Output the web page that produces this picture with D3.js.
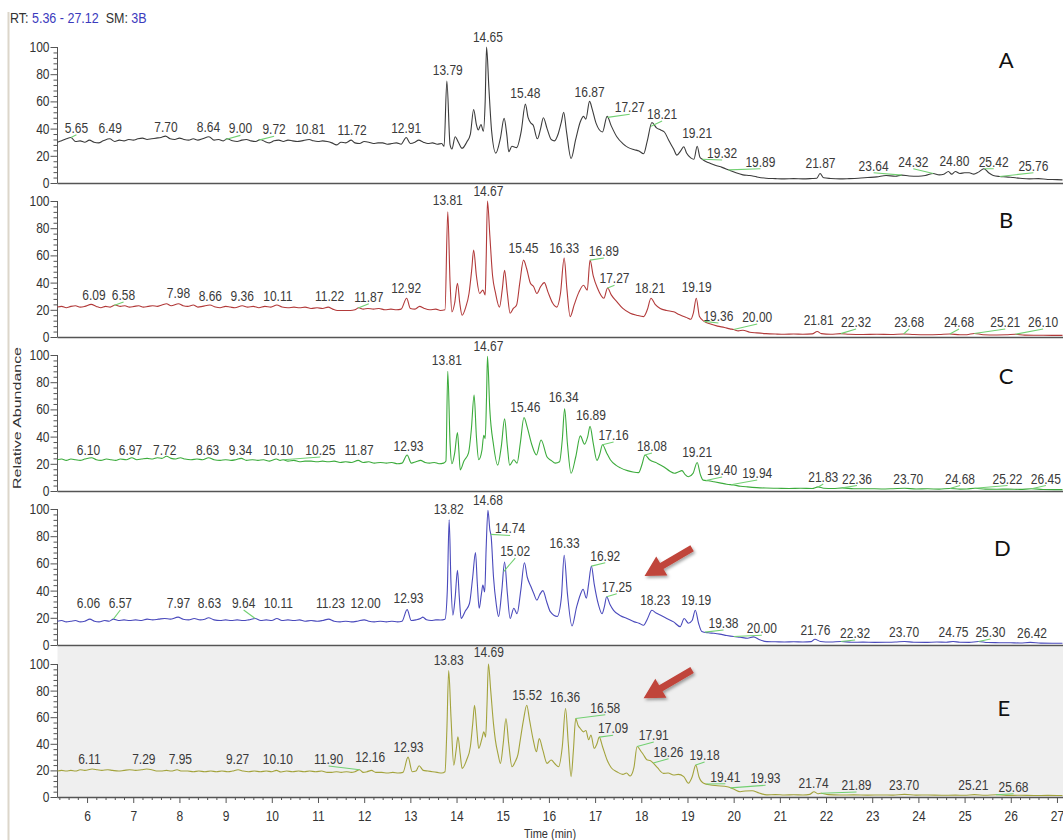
<!DOCTYPE html>
<html>
<head>
<meta charset="utf-8">
<script src="https://cdn.jsdelivr.net/npm/d3@7"></script>
<style>
  body { margin: 0; background: #fff; }
  svg { display: block; font-family: "Liberation Sans", Arial, sans-serif; }
</style>
</head>
<body>
<svg id="chart" width="1063" height="840"></svg>
<script>
// ---- Data: retention time (min) vs relative abundance (%) ----
const rtRange = [5.36, 27.12];
const yTicks = [0, 20, 40, 60, 80, 100];
const panelNames = ["A", "B", "C", "D", "E"];

const traceA = [
[5.36,30],[5.45,31],[5.55,32.5],[5.65,33.5],[5.75,30.5],[5.85,31],[5.95,30],[6.05,31.5],[6.15,30],[6.25,29.5],[6.35,31],[6.49,32.5],[6.6,30.5],[6.7,31.5],[6.8,31],[6.9,32],[7.0,31.5],[7.1,32.5],[7.2,33],[7.3,32],[7.4,32.5],[7.5,33],[7.6,33.5],[7.7,34.5],[7.8,32.5],[7.9,32],[8.0,33],[8.1,32],[8.2,31.5],[8.3,32.5],[8.4,31.5],[8.5,32.5],[8.64,34],[8.75,31.5],[8.85,32],[8.95,31],[9.03,32.5],[9.15,31],[9.25,30.5],[9.35,31.5],[9.45,32],[9.55,31],[9.65,30.5],[9.75,32],[9.85,30.5],[9.95,29.5],[10.05,31],[10.15,31.5],[10.25,30.5],[10.35,31.5],[10.45,31],[10.55,30.5],[10.65,31],[10.81,32],[10.9,31],[11.0,30.5],[11.1,31],[11.2,30.5],[11.3,29.5],[11.4,28],[11.5,30],[11.6,29.5],[11.72,31.5],[11.8,29.5],[11.9,29],[12.0,30.5],[12.1,30],[12.2,29],[12.3,29.5],[12.4,29.5],[12.5,28.5],[12.6,29],[12.7,29.5],[12.8,28.5],[12.91,33.5],[13.0,29],[13.1,30],[13.18,31.5],[13.28,30],[13.38,29],[13.48,29.5],[13.58,28.5],[13.68,29],[13.73,27],[13.79,75],[13.86,28],[13.9,25],[13.97,34],[14.04,30],[14.12,25.5],[14.22,30],[14.3,36],[14.37,54],[14.43,43],[14.47,39],[14.53,43],[14.58,38],[14.62,60],[14.65,100],[14.7,70],[14.76,38],[14.85,22],[14.95,33],[15.03,47.5],[15.09,35],[15.13,23],[15.2,27],[15.3,26],[15.4,38],[15.49,58],[15.55,48],[15.61,44],[15.66,42.5],[15.75,32.5],[15.82,40],[15.88,48],[15.96,40],[16.05,32],[16.12,31],[16.2,36],[16.27,45],[16.32,52],[16.38,38],[16.48,18],[16.58,32],[16.68,45],[16.75,49],[16.8,47],[16.88,60],[16.94,54],[17.02,44],[17.16,37.5],[17.26,49],[17.35,42],[17.47,34],[17.6,29],[17.72,26],[17.85,24.5],[17.95,23.5],[18.05,21.5],[18.13,31],[18.23,44.5],[18.33,40.5],[18.42,39],[18.5,37.5],[18.6,31],[18.7,25],[18.77,20.5],[18.86,24],[18.92,26.7],[18.98,22],[19.07,18.5],[19.14,17.5],[19.21,27],[19.27,19],[19.32,17.5],[19.45,15],[19.6,13],[19.75,11.5],[19.9,9.5],[20.05,7.5],[20.2,6],[20.35,5.5],[20.5,4.5],[20.7,3.5],[20.9,3.2],[21.1,3],[21.3,3.2],[21.5,3],[21.7,3.3],[21.8,3.5],[21.87,7],[21.95,3.8],[22.1,3.3],[22.3,3],[22.5,3.2],[22.7,3.5],[22.9,4],[23.1,4.5],[23.3,5.5],[23.5,5],[23.64,5.8],[23.8,5.2],[24.0,5],[24.15,5.5],[24.32,7],[24.45,6],[24.55,6.5],[24.65,8.5],[24.72,6.5],[24.8,8.5],[24.9,7],[25.0,7.5],[25.1,7.5],[25.2,6.5],[25.3,8],[25.42,10.5],[25.52,7.5],[25.62,5.5],[25.76,4.8],[25.9,4.5],[26.05,4],[26.2,3.5],[26.4,3],[26.6,3.2],[26.8,2.6],[27.0,2.5],[27.12,2.3]
];

const traceB = [
[5.36,22],[5.45,22.5],[5.55,21.5],[5.65,22.5],[5.75,23],[5.85,22],[5.95,22.5],[6.09,24],[6.2,22.5],[6.3,21.5],[6.4,22.5],[6.5,22],[6.61,23.5],[6.72,22.5],[6.82,23],[6.92,22],[7.02,22.5],[7.12,23],[7.22,22],[7.32,22.5],[7.42,23],[7.52,22.5],[7.62,23.5],[7.72,24.5],[7.82,23],[7.98,24.5],[8.08,23],[8.18,22.5],[8.3,23.5],[8.4,22],[8.5,22.5],[8.66,23.5],[8.78,22],[8.88,21.5],[9.0,22.5],[9.1,22],[9.2,21.5],[9.36,23],[9.48,22],[9.6,22.5],[9.72,21.5],[9.85,22.5],[9.98,22],[10.11,23.5],[10.22,22],[10.35,21.5],[10.48,22],[10.6,21.5],[10.72,22],[10.85,21],[10.98,21.5],[11.1,21],[11.22,22],[11.32,20.5],[11.42,19.5],[11.55,19.5],[11.7,19.5],[11.8,20],[11.88,21.5],[11.98,20.5],[12.08,21],[12.2,20.5],[12.32,21],[12.45,20],[12.58,20.5],[12.7,20],[12.8,20.5],[12.92,28.5],[13.0,21],[13.1,20.5],[13.2,22.5],[13.3,21],[13.42,20],[13.55,20.5],[13.65,19.5],[13.75,20],[13.81,92],[13.86,40],[13.9,18.5],[13.96,25],[14.02,39.5],[14.07,25],[14.12,16],[14.2,22],[14.27,32],[14.33,50],[14.37,64],[14.43,45],[14.5,32],[14.57,34.5],[14.62,31],[14.64,55],[14.67,100],[14.72,75],[14.78,45],[14.84,33],[14.93,22],[14.99,35],[15.04,49],[15.1,32],[15.16,17.5],[15.23,21],[15.3,23.5],[15.37,40],[15.45,56.5],[15.52,50],[15.6,39.5],[15.67,37],[15.74,32],[15.82,37],[15.9,40],[15.98,33],[16.08,25],[16.17,22],[16.25,32],[16.33,58],[16.39,35],[16.46,15],[16.55,24],[16.65,33],[16.75,38],[16.83,34.5],[16.89,56.5],[16.96,45],[17.05,36],[17.19,28.5],[17.27,36],[17.35,31],[17.47,26],[17.6,21],[17.76,17.5],[17.9,16],[18.05,15],[18.13,20],[18.21,28.5],[18.3,24],[18.41,21],[18.55,19.5],[18.7,18.5],[18.82,16.5],[18.92,15],[19.0,14],[19.07,13],[19.13,18],[19.19,28.5],[19.26,15],[19.36,11.5],[19.5,9.5],[19.65,8],[19.8,7],[19.92,6],[20.0,5.5],[20.1,4.5],[20.2,5],[20.35,3.5],[20.5,3],[20.7,2.5],[20.9,2.2],[21.1,2],[21.3,2.2],[21.5,2],[21.7,2.3],[21.81,4],[21.9,2.5],[22.1,2],[22.32,2.5],[22.5,2],[22.8,1.8],[23.1,2],[23.4,1.8],[23.68,2.2],[23.9,1.8],[24.2,1.6],[24.45,1.8],[24.68,2.2],[24.9,1.6],[25.05,1.7],[25.21,2.6],[25.4,1.7],[25.7,1.5],[25.9,1.6],[26.1,2],[26.3,1.4],[26.6,1.3],[26.9,1.2],[27.12,1.2]
];

const traceC = [
[5.36,23],[5.45,23.5],[5.55,22.5],[5.65,23.5],[5.75,23],[5.85,22.5],[5.95,23.5],[6.1,24.5],[6.2,23],[6.3,22.5],[6.42,23.5],[6.52,23],[6.62,22.5],[6.72,23.5],[6.85,23],[6.97,24.5],[7.08,23],[7.18,23.5],[7.3,24],[7.42,23.5],[7.52,24.5],[7.62,24],[7.72,25.5],[7.82,24],[7.92,23.5],[8.02,24.5],[8.12,23.5],[8.25,23],[8.38,23.5],[8.5,23],[8.63,24.5],[8.75,23],[8.88,22.5],[9.0,23],[9.12,22.5],[9.22,23],[9.34,24],[9.45,22.5],[9.58,23],[9.7,22.5],[9.82,23],[9.95,22],[10.1,23.5],[10.18,22.5],[10.25,23],[10.35,22],[10.48,22.5],[10.6,21.5],[10.72,22],[10.85,22],[10.98,21.5],[11.1,22],[11.22,21.5],[11.35,22],[11.48,21],[11.6,21.5],[11.72,21],[11.87,22.5],[11.98,21],[12.1,21.5],[12.22,20.5],[12.35,21],[12.48,20.5],[12.6,21],[12.72,20],[12.82,20.5],[12.93,26.5],[13.02,20.5],[13.12,21.5],[13.22,22.5],[13.32,21],[13.42,20.5],[13.52,21],[13.62,20],[13.72,20.5],[13.77,22],[13.81,88],[13.86,35],[13.9,20],[13.96,28],[14.02,43],[14.05,30],[14.08,15.5],[14.16,22],[14.26,28],[14.32,45],[14.38,70.5],[14.43,40],[14.48,23],[14.55,30],[14.59,41],[14.62,38.5],[14.65,70],[14.67,99],[14.72,60],[14.8,34],[14.89,19],[14.97,33],[15.04,53],[15.1,33],[15.15,19],[15.24,23],[15.31,20.5],[15.38,35],[15.46,54],[15.53,47],[15.63,34],[15.73,26.5],[15.83,37.5],[15.96,25],[16.05,22.5],[16.14,20.5],[16.23,21.5],[16.29,38],[16.34,60.5],[16.4,35],[16.48,13],[16.58,25],[16.68,40.5],[16.77,34.5],[16.84,40],[16.89,47.5],[16.96,35],[17.04,22.5],[17.1,27],[17.16,34],[17.25,28],[17.33,23],[17.45,19],[17.55,17],[17.7,15],[17.82,14],[17.94,13.5],[18.02,20],[18.08,26.5],[18.18,23],[18.34,20.5],[18.5,17.5],[18.62,14.5],[18.72,13],[18.8,14],[18.88,15],[18.95,12],[19.02,10.5],[19.12,13],[19.21,21],[19.28,12],[19.34,8],[19.45,7.5],[19.57,6.8],[19.7,6],[19.85,5],[20.0,4.4],[20.15,3.5],[20.3,3],[20.5,2.5],[20.7,2.2],[20.95,2],[21.2,1.8],[21.45,2],[21.7,1.8],[21.83,3],[21.95,2],[22.15,1.8],[22.36,2.3],[22.6,1.6],[22.9,1.7],[23.2,1.5],[23.45,1.7],[23.7,2],[23.95,1.5],[24.2,1.6],[24.45,1.4],[24.68,1.8],[24.9,1.4],[25.05,1.5],[25.22,2],[25.45,1.4],[25.7,1.3],[25.95,1.4],[26.2,1.2],[26.45,1.6],[26.7,1.1],[26.95,1],[27.12,1]
];

const traceD = [
[5.36,17.5],[5.45,18],[5.55,17],[5.65,17.5],[5.75,18],[5.85,17],[5.95,17.5],[6.06,19],[6.16,17.5],[6.26,17],[6.38,18],[6.48,17.5],[6.57,19],[6.68,18],[6.8,18.5],[6.92,18],[7.05,18.5],[7.18,18],[7.3,19],[7.42,18.5],[7.55,19],[7.68,19.5],[7.8,19],[7.97,20.5],[8.08,19],[8.2,18.5],[8.32,19.5],[8.45,18.5],[8.55,19],[8.63,20],[8.75,18.5],[8.88,18],[9.0,18.5],[9.12,18],[9.25,18.5],[9.38,18],[9.5,18.5],[9.64,19.5],[9.76,18],[9.88,18.5],[10.0,18],[10.11,19.5],[10.22,18],[10.35,18.5],[10.48,18],[10.6,18.5],[10.72,17.5],[10.85,18],[10.98,17.5],[11.1,18],[11.23,19],[11.35,17.5],[11.48,17],[11.6,17.5],[11.72,17],[11.85,17.5],[12.0,18.5],[12.1,17.5],[12.22,17],[12.35,17.5],[12.48,17],[12.6,17.5],[12.72,17],[12.82,17.5],[12.93,26],[13.02,18],[13.12,18.5],[13.22,19.5],[13.27,20.5],[13.35,18.5],[13.45,18],[13.55,18.5],[13.65,18.4],[13.75,19],[13.8,40],[13.84,92],[13.88,45],[13.92,22],[13.97,35],[14.02,55],[14.06,35],[14.1,19.5],[14.19,25],[14.28,30.5],[14.35,50],[14.41,68],[14.45,45],[14.49,27],[14.54,38],[14.57,44],[14.61,39],[14.64,70],[14.68,99],[14.72,85],[14.75,79.5],[14.8,50],[14.86,30],[14.91,21],[14.98,40],[15.04,61],[15.1,38],[15.16,19.5],[15.24,27],[15.31,23],[15.39,40],[15.47,60.5],[15.53,50],[15.61,43],[15.67,38],[15.74,33],[15.8,37],[15.87,40],[15.95,32],[16.03,24.5],[16.18,21],[16.27,35],[16.33,66],[16.4,38],[16.5,14],[16.6,28],[16.68,37],[16.74,41],[16.81,34.5],[16.86,45],[16.92,58],[16.98,45],[17.07,30],[17.15,23],[17.2,28],[17.25,35.5],[17.32,30],[17.4,25.5],[17.55,21.5],[17.69,19.5],[17.85,17],[17.95,16],[18.05,14.5],[18.13,19],[18.23,25.5],[18.32,23.5],[18.41,22],[18.55,19.5],[18.7,17],[18.84,13.5],[18.93,19.5],[19.02,16],[19.1,18],[19.17,25.5],[19.24,16],[19.31,10],[19.45,9],[19.57,8.6],[19.7,8],[19.85,7],[20.0,6.2],[20.14,5.7],[20.3,5],[20.43,6],[20.55,4],[20.72,2.5],[20.9,2.4],[21.1,2.2],[21.3,2.4],[21.5,2.2],[21.68,2.5],[21.76,4.2],[21.88,2.6],[22.1,2.2],[22.32,2.6],[22.55,2],[22.8,2.1],[23.05,1.9],[23.3,2],[23.5,2.2],[23.7,2.6],[23.9,2],[24.15,1.9],[24.4,2.2],[24.6,2],[24.75,2.6],[24.9,2],[25.1,1.9],[25.3,2.6],[25.5,1.8],[25.75,1.7],[26.0,1.6],[26.2,1.5],[26.42,1.9],[26.65,1.4],[26.9,1.3],[27.12,1.3]
];

const traceE = [
[5.36,19.5],[5.45,20],[5.55,19.5],[5.65,20],[5.75,19.5],[5.85,20.5],[5.95,20],[6.11,21],[6.22,20.5],[6.32,20],[6.45,20.5],[6.55,20],[6.68,19.5],[6.8,20],[6.92,20.5],[7.05,20],[7.18,20.5],[7.29,21],[7.4,20.5],[7.5,19.5],[7.6,19.5],[7.72,20],[7.82,19.5],[7.95,20.5],[8.05,19.5],[8.18,19.5],[8.3,19],[8.42,19.5],[8.55,19],[8.68,19.5],[8.8,19],[8.92,19.5],[9.05,19],[9.15,19.5],[9.27,20.5],[9.38,19.5],[9.5,19],[9.62,19.5],[9.75,19],[9.88,19.5],[10.0,19],[10.1,20],[10.2,18.8],[10.32,19.5],[10.45,19],[10.58,19.5],[10.7,19],[10.82,19.5],[10.95,19],[11.08,19.5],[11.2,18.5],[11.3,18.5],[11.4,19],[11.5,18.5],[11.62,19],[11.72,18.5],[11.8,19],[11.9,20.5],[11.98,18.5],[12.06,19],[12.16,20],[12.25,18.5],[12.38,18.5],[12.5,18],[12.62,18.5],[12.74,18],[12.84,18.5],[12.95,30],[13.04,19],[13.12,19.5],[13.19,23.5],[13.28,20],[13.38,19.5],[13.48,19],[13.58,18.5],[13.68,18],[13.75,19],[13.79,50],[13.83,95],[13.88,60],[13.94,24],[13.99,35],[14.03,45.3],[14.08,32],[14.12,21.5],[14.22,28],[14.3,38],[14.35,55],[14.39,69],[14.44,50],[14.48,36.5],[14.55,44],[14.59,49],[14.63,45],[14.66,70],[14.69,100],[14.74,80],[14.8,55],[14.84,43],[14.9,32],[14.95,25.3],[15.01,40],[15.07,59],[15.13,40],[15.2,22.8],[15.27,26.6],[15.33,32],[15.38,43],[15.45,58],[15.52,69],[15.58,58],[15.66,43],[15.73,34],[15.79,44],[15.87,35],[15.96,25.3],[16.05,27.8],[16.13,25],[16.21,22.8],[16.29,38],[16.36,66.5],[16.42,40],[16.48,15.3],[16.53,35],[16.58,59],[16.63,54],[16.68,51.5],[16.75,49],[16.8,50],[16.86,43],[16.91,46.6],[16.98,36.6],[17.04,40],[17.09,45],[17.16,38],[17.26,27.8],[17.35,22],[17.47,19],[17.6,17],[17.68,18],[17.76,15.8],[17.84,22],[17.91,38],[18.0,34],[18.05,31.6],[18.12,28],[18.2,27.3],[18.26,25.5],[18.35,22],[18.48,17.8],[18.58,18],[18.7,16.5],[18.8,17],[18.92,15.3],[19.02,10.3],[19.1,15],[19.18,24],[19.25,15],[19.35,10.3],[19.5,9],[19.65,8.5],[19.86,7.7],[20.0,6],[20.14,4],[20.25,4.5],[20.4,4.7],[20.55,3],[20.72,1.6],[20.9,1.8],[21.1,1.5],[21.3,1.7],[21.5,1.5],[21.65,2],[21.74,4],[21.82,2.5],[21.89,2.8],[22.05,1.8],[22.3,1.5],[22.6,1.6],[22.9,1.4],[23.2,1.5],[23.45,1.4],[23.7,2],[23.95,1.4],[24.2,1.5],[24.5,1.3],[24.8,1.4],[25.0,1.3],[25.21,1.8],[25.45,1.3],[25.68,1.7],[25.9,1.2],[26.2,1.3],[26.5,1.1],[26.8,1.2],[27.12,1.1]
];

// Peak labels: [label text (apex RT), label RT, label abundance]
const labelsA = [
["5.65",5.77,37],["6.49",6.50,37],["7.70",7.71,37.7],["8.64",8.63,37.7],["9.00",9.32,36.5],["9.72",10.05,35.8],["10.81",10.83,35.8],["11.72",11.74,35.3],["12.91",12.91,36.5],["13.79",13.81,79.4],["14.65",14.68,103.5],["15.48",15.49,62.3],["16.87",16.88,63.5],["17.27",17.75,52],["18.21",18.45,47],["19.21",19.21,32.8],["19.32",19.75,18.4],["19.89",20.58,12],["21.87",21.88,10.8],["23.64",23.03,9],["24.32",23.89,12],["24.80",24.78,12.7],["25.42",25.63,12],["25.76",26.49,9]
];
const labelsB = [
["6.09",6.15,27.2],["6.58",6.79,27.2],["7.98",7.98,28.5],["8.66",8.67,26.7],["9.36",9.36,26.7],["10.11",10.13,26.7],["11.22",11.25,26.7],["11.87",12.10,26],["12.92",12.91,32],["13.81",13.81,97],["14.67",14.69,104],["15.45",15.45,61.5],["16.33",16.33,61.5],["16.89",17.19,59.6],["17.27",17.42,39.5],["18.21",18.19,32],["19.19",19.2,33],["19.36",19.67,11.8],["20.00",20.51,11],["21.81",21.84,8.8],["22.32",22.65,7.4],["23.68",23.8,7.4],["24.68",24.88,7.4],["25.21",25.88,7.4],["26.10",26.7,7.4]
];
const labelsC = [
["6.10",6.03,26.5],["6.97",6.94,26.5],["7.72",7.68,26.5],["8.63",8.61,26.5],["9.34",9.32,26.5],["10.10",10.14,26.5],["10.25",11.05,26.5],["11.87",11.89,26.5],["12.93",12.96,29.4],["13.81",13.79,92.6],["14.67",14.69,103],["15.46",15.49,58.3],["16.34",16.32,65.2],["16.89",16.91,52.2],["17.16",17.40,37.5],["18.08",18.23,29.4],["19.21",19.21,25.2],["19.40",19.75,11.8],["19.94",20.51,9.6],["21.83",21.94,6.6],["22.36",22.67,5.5],["23.70",23.78,5.5],["24.68",24.9,5.5],["25.22",25.93,5.5],["26.45",26.76,5.5]
];
const labelsD = [
["6.06",6.03,27.2],["6.57",6.72,27.2],["7.97",7.98,27.2],["8.63",8.65,27.2],["9.64",9.39,27.2],["10.11",10.14,27.2],["11.23",11.27,27.2],["12.00",12.03,27.2],["12.93",12.96,30.7],["13.82",13.83,96.3],["14.68",14.68,103],["14.74",15.16,82],["15.02",15.27,65.4],["16.33",16.34,71.1],["16.92",17.22,62],["17.25",17.47,39.2],["18.23",18.30,29.4],["19.19",19.19,29.4],["19.38",19.78,12.5],["20.00",20.61,8.6],["21.76",21.77,7.4],["22.32",22.63,5.1],["23.70",23.69,5.9],["24.75",24.76,6.1],["25.30",25.56,5.9],["26.42",26.46,5.5]
];
const labelsE = [
["6.11",6.05,24.8],["7.29",7.23,24.8],["7.95",8.02,24.8],["9.27",9.26,24.8],["10.10",10.13,24.8],["11.90",11.23,24.8],["12.16",12.13,26.5],["12.93",12.96,34],["13.83",13.83,99.2],["14.69",14.70,105],["15.52",15.53,73.3],["16.36",16.35,71.5],["16.58",17.22,63.4],["17.09",17.39,47.9],["17.91",18.27,42.9],["18.26",18.59,30.3],["19.18",19.37,27.8],["19.41",19.82,11.5],["19.93",20.69,10.3],["21.74",21.73,6.4],["21.89",22.66,5.3],["23.70",23.69,5.3],["25.21",25.19,5.3],["25.68",26.06,4]
];

const traces = [traceA, traceB, traceC, traceD, traceE];
const labelSets = [labelsA, labelsB, labelsC, labelsD, labelsE];

// ---- Layout ----
const W = 1063, H = 840;
const panels = [
  { top: 47,  bottom: 183, color: "#3c3c3c", nameAt: [25.9, 84.8] },
  { top: 201, bottom: 337, color: "#b23a3a", nameAt: [25.9, 80] },
  { top: 355, bottom: 491, color: "#3cab3c", nameAt: [25.9, 78.7] },
  { top: 509, bottom: 645, color: "#4a4abc", nameAt: [25.82, 65.4] },
  { top: 664, bottom: 797, color: "#a3a33c", nameAt: [25.85, 61] }
];
const axisX0 = 57.5;
const x = d3.scaleLinear().domain(rtRange).range([axisX0, 1062.5]);
const textColor = "#333";
const stretch = "scale(1,1.15)";   // glyphs in this plot are slightly tall

const svg = d3.select("#chart");
svg.append("rect").attr("width", W).attr("height", H).attr("fill", "#fff");

// shaded background of the last trace
svg.append("rect")
  .attr("x", axisX0).attr("y", 646.5)
  .attr("width", W - axisX0).attr("height", panels[4].bottom - 646.5)
  .attr("fill", "#efefef");

// frame line at the left
svg.append("line")
  .attr("x1", 8.5).attr("x2", 8.5).attr("y1", 12).attr("y2", H)
  .attr("stroke", "#dcd6ca").attr("stroke-width", 2);

// header
const hdr = svg.append("text").attr("transform", `translate(10,23) ${stretch}`)
  .attr("font-size", 12.5).attr("fill", textColor).attr("xml:space", "preserve");
hdr.append("tspan").text("RT: ");
hdr.append("tspan").attr("fill", "#3b3bbd").text("5.36 - 27.12");
hdr.append("tspan").text("  SM: ");
hdr.append("tspan").attr("fill", "#3b3bbd").text("3B");

function valueAt(trace, rt) {
  const i = d3.bisector(d => d[0]).left(trace, rt);
  if (i <= 0) return trace[0][1];
  if (i >= trace.length) return trace[trace.length - 1][1];
  const a = trace[i - 1], b = trace[i];
  const t = (rt - a[0]) / (b[0] - a[0]);
  return a[1] + t * (b[1] - a[1]);
}

panels.forEach((p, i) => {
  const y = d3.scaleLinear().domain([0, 100]).range([p.bottom, p.top]);
  const g = svg.append("g");

  // minor y ticks
  g.append("g")
    .attr("transform", `translate(${axisX0},0)`)
    .call(d3.axisLeft(y).tickValues(d3.range(0, 101, 4).filter(v => v % 20 !== 0))
      .tickSize(4).tickFormat(""))
    .call(s => s.select(".domain").remove())
    .call(s => s.selectAll("line").attr("stroke", "#555"));

  // major y ticks + labels
  g.append("g")
    .attr("transform", `translate(${axisX0},0)`)
    .call(d3.axisLeft(y).tickValues(yTicks).tickSize(7).tickPadding(1))
    .call(s => s.select(".domain").attr("stroke", "#555").attr("d", `M0,${y(100)}V${y(0)}`))
    .call(s => s.selectAll("line").attr("stroke", "#555"))
    .call(s => s.selectAll("text").attr("font-size", 12).attr("fill", textColor)
      .attr("font-family", "'Liberation Sans', Arial, sans-serif")
      .attr("transform", stretch));

  // baseline axis line
  g.append("line")
    .attr("x1", axisX0).attr("x2", W).attr("y1", p.bottom + 0.5).attr("y2", p.bottom + 0.5)
    .attr("stroke", "#555").attr("stroke-width", 1.6);

  // chromatogram trace
  const line = d3.line().x(d => x(d[0])).y(d => y(d[1])).curve(d3.curveMonotoneX);
  g.append("path").datum(traces[i])
    .attr("d", line).attr("fill", "none")
    .attr("stroke", p.color).attr("stroke-width", 1.1);

  // peak labels with leader lines
  labelSets[i].forEach(([txt, lrt, lab]) => {
    const rt = +txt;
    const apex = valueAt(traces[i], rt);
    if (Math.abs(lrt - rt) > 0.1) {
      g.append("line")
        .attr("x1", x(rt)).attr("y1", y(apex))
        .attr("x2", x(lrt)).attr("y2", y(lab) + 2)
        .attr("stroke", "#72d072").attr("stroke-width", 1.1);
    }
    g.append("text")
      .attr("transform", `translate(${x(lrt)},${y(lab)}) ${stretch}`)
      .attr("text-anchor", "middle").attr("font-size", 12)
      .attr("fill", "#3a3a3a").text(txt);
  });

  // panel letter
  g.append("text")
    .attr("x", x(p.nameAt[0])).attr("y", y(p.nameAt[1]))
    .attr("text-anchor", "middle")
    .attr("font-family", "Lato, 'Open Sans', sans-serif")
    .attr("font-size", 22).attr("fill", "#111")
    .text(panelNames[i]);
});

// time axis under the last trace
const last = panels[4];
svg.append("g")
  .attr("transform", `translate(0,${last.bottom})`)
  .call(d3.axisBottom(x).tickValues(d3.range(5.4, 27.11, 0.2).filter(v => Math.abs(v - Math.round(v)) > 0.01))
    .tickSize(3).tickFormat(""))
  .call(s => s.select(".domain").remove())
  .call(s => s.selectAll("line").attr("stroke", "#555"));
svg.append("g")
  .attr("transform", `translate(0,${last.bottom})`)
  .call(d3.axisBottom(x).tickValues(d3.range(6, 28, 1)).tickSize(6).tickPadding(6).tickFormat(d3.format("d")))
  .call(s => s.select(".domain").remove())
  .call(s => s.selectAll("line").attr("stroke", "#555"))
  .call(s => s.selectAll("text").attr("font-size", 12).attr("fill", textColor)
    .attr("font-family", "'Liberation Sans', Arial, sans-serif")
    .attr("transform", stretch));

svg.append("text")
  .attr("transform", `translate(550,838) ${stretch}`).attr("text-anchor", "middle")
  .attr("font-size", 11).attr("fill", textColor).text("Time (min)");

svg.append("text")
  .attr("transform", "translate(21,418) rotate(-90)")
  .attr("text-anchor", "middle")
  .attr("textLength", 142).attr("lengthAdjust", "spacingAndGlyphs")
  .attr("font-size", 11).attr("fill", textColor).text("Relative Abundance");

// red arrows pointing at the 17–18 min region of D and E
const defs = svg.append("defs");
const f = defs.append("filter").attr("id", "shadow").attr("x", "-30%").attr("y", "-30%").attr("width", "160%").attr("height", "160%");
f.append("feDropShadow").attr("dx", 1.5).attr("dy", 2).attr("stdDeviation", 1.5)
  .attr("flood-color", "#000").attr("flood-opacity", 0.35);

function arrow(panelIdx, from, to) {
  const p = panels[panelIdx];
  const y = d3.scaleLinear().domain([0, 100]).range([p.bottom, p.top]);
  const x1 = x(from[0]), y1 = y(from[1]), x2 = x(to[0]), y2 = y(to[1]);
  const dx = x2 - x1, dy = y2 - y1, len = Math.hypot(dx, dy);
  const ux = dx / len, uy = dy / len, nx = -uy, ny = ux;
  const headL = 20, headW = 11, shaftW = 3.4;
  const bx = x2 - ux * headL, by = y2 - uy * headL;
  const pts = [
    [x1 + nx * shaftW, y1 + ny * shaftW],
    [bx + nx * shaftW, by + ny * shaftW],
    [bx + nx * headW, by + ny * headW],
    [x2, y2],
    [bx - nx * headW, by - ny * headW],
    [bx - nx * shaftW, by - ny * shaftW],
    [x1 - nx * shaftW, y1 - ny * shaftW]
  ];
  svg.append("path")
    .attr("d", "M" + pts.map(q => q.join(",")).join("L") + "Z")
    .attr("fill", "#c0443a").attr("filter", "url(#shadow)");
}
arrow(3, [19.1, 71.1], [18.07, 50.7]);
arrow(4, [19.1, 95.5], [18.05, 74.2]);
</script>
</body>
</html>
